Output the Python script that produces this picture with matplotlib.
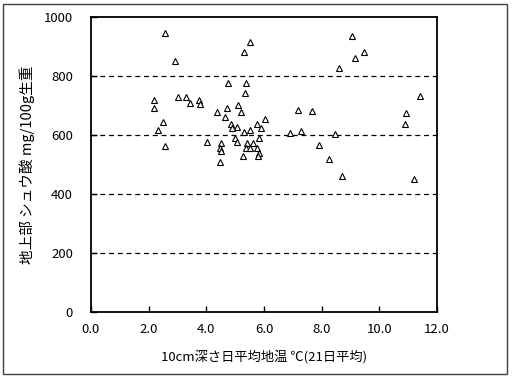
import matplotlib.pyplot as plt
from matplotlib.patches import Rectangle
from matplotlib.ticker import FormatStrFormatter

plt.rcParams['font.family'] = ['Noto Sans CJK JP', 'DejaVu Sans']

# 10cm深さ日平均地温 (℃) と 地上部シュウ酸 (mg/100g生重)
temp = [2.55, 2.90, 2.20, 2.19, 2.50, 2.34, 2.55, 3.02, 3.29, 3.45,
        3.76, 3.79, 4.01, 4.38, 4.64, 4.72, 4.75, 5.11, 5.19, 5.36,
        5.35, 5.50, 5.32, 4.87, 5.07, 4.90, 5.32, 5.53, 5.74, 5.90,
        6.03, 4.99, 5.05, 4.52, 4.49, 4.52, 4.47, 5.42, 5.63, 5.82,
        5.36, 5.53, 5.74, 5.82, 5.28, 5.80,
        9.06, 9.46, 9.14, 8.60, 11.40, 7.17, 7.68, 10.92, 10.88, 6.90,
        7.29, 8.46, 7.92, 8.24, 8.72, 11.20]
oxalic = [946, 850, 719, 693, 643, 618, 563, 728, 729, 709,
          719, 704, 575, 677, 660, 690, 777, 702, 679, 775,
          741, 915, 881, 636, 628, 623, 611, 617, 636, 623,
          654, 589, 575, 572, 557, 546, 510, 572, 572, 589,
          557, 555, 555, 538, 529, 530,
          937, 881, 862, 826, 731, 684, 681, 674, 637, 607,
          615, 604, 567, 518, 462, 450]

fig = plt.figure(figsize=(5.12, 3.78), dpi=100)
ax = fig.add_axes([91 / 512, 1 - 312 / 378, 346 / 512, 295 / 378])

for yv in [200, 400, 600, 800]:
    ax.axhline(yv, color='black', lw=0.9, linestyle=(0, (4, 3)), zorder=1)

ax.plot(temp, oxalic, linestyle='none', marker='^', markersize=5,
        markerfacecolor='white', markeredgecolor='black', markeredgewidth=0.8, zorder=3)

ax.set_xlim(0, 12)
ax.set_ylim(0, 1000)
ax.set_xticks([0, 2, 4, 6, 8, 10, 12])
ax.set_yticks([0, 200, 400, 600, 800, 1000])
ax.xaxis.set_major_formatter(FormatStrFormatter('%.1f'))
ax.tick_params(direction='in', length=4, width=1, labelsize=9.5)
ax.tick_params(axis='x', pad=8)
ax.tick_params(axis='y', pad=13)
for s in ax.spines.values():
    s.set_linewidth(1.3)

ax.set_xlabel('10cm深さ日平均地温 ℃(21日平均)', fontsize=9.5, labelpad=10)
ax.set_ylabel('地上部 シュウ酸 mg/100g生重', fontsize=10.5, labelpad=6)

fig.patches.append(Rectangle((3 / 512, 4 / 378), 504 / 512, 370 / 378, transform=fig.transFigure,
                             fill=False, edgecolor='#404040', lw=1.0))

fig.savefig('out.png', dpi=100)
